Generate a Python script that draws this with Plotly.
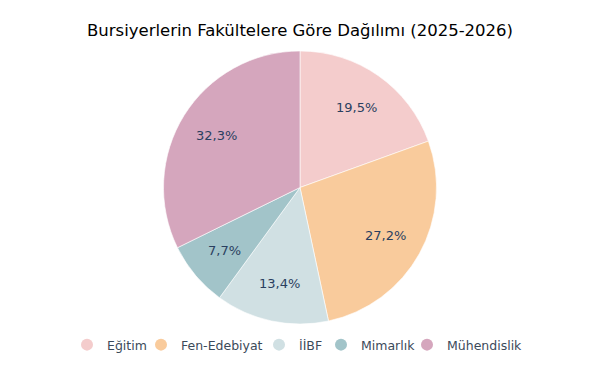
import math
import plotly.graph_objects as go

categories = ["Eğitim", "Fen-Edebiyat", "İİBF", "Mimarlık", "Mühendislik"]
shares = [19.5, 27.2, 13.4, 7.7, 32.3]
colors = ["#F4CCCC", "#F9CB9C", "#D0E0E3", "#A2C4C9", "#D5A6BD"]

W, H = 600, 371
M_T, M_B = 51, 47
plot_h = H - M_T - M_B
R = min(W, plot_h) / 2
LABEL_FRAC = 0.72

fig = go.Figure()
fig.add_trace(go.Pie(
    labels=categories, values=shares, sort=False, direction="clockwise",
    rotation=0, marker=dict(colors=colors, line=dict(color="white", width=0.6)),
    textinfo="none", showlegend=False, hoverinfo="label+percent",
    domain=dict(x=[0, 1], y=[0, 1]),
))

# percentage labels at the middle angle of each slice
total = sum(shares)
cum = 0.0
for s in shares:
    mid = (cum + s / 2) / total * 2 * math.pi
    cum += s
    dx = LABEL_FRAC * R * math.sin(mid)
    dy = LABEL_FRAC * R * math.cos(mid)
    fig.add_annotation(
        x=0.5 + dx / W, y=0.5 + dy / plot_h, xref="paper", yref="paper",
        xanchor="center", yanchor="middle",
        text=f"{s:.1f}%".replace(".", ","), showarrow=False,
        font=dict(family="DejaVu Sans", size=13, color="#2a3f5f"),
    )

# legend entries, one small legend each (circle symbols)
legend_x = [87, 161, 279, 341, 427]
for i, (c, col) in enumerate(zip(categories, colors)):
    key = "legend" if i == 0 else f"legend{i+1}"
    fig.add_trace(go.Scatter(x=[None], y=[None], mode="markers", name=c,
                             legend=key,
                             marker=dict(symbol="circle", size=12, color=col)))
    fig.update_layout({key: dict(
        orientation="h", xref="container", yref="container",
        x=(legend_x[i] - 20) / W, xanchor="left",
        y=1 - 345 / H, yanchor="middle",
        bgcolor="rgba(0,0,0,0)", borderwidth=0,
        font=dict(family="DejaVu Sans", size=12.5, color="#3b4a5a"))})

fig.update_layout(
    width=W, height=H,
    paper_bgcolor="white", plot_bgcolor="white",
    margin=dict(l=0, r=0, t=M_T, b=M_B, autoexpand=False),
    title=dict(text="Bursiyerlerin Fakültelere Göre Dağılımı (2025-2026)", x=0.5, xanchor="center",
               y=1 - 30 / H, yanchor="middle",
               font=dict(family="DejaVu Sans", size=16.5, color="black")),
    xaxis=dict(visible=False), yaxis=dict(visible=False),
)
fig.write_html("out.html", config={"displayModeBar": False},
               post_script="document.body.style.margin='0';")
